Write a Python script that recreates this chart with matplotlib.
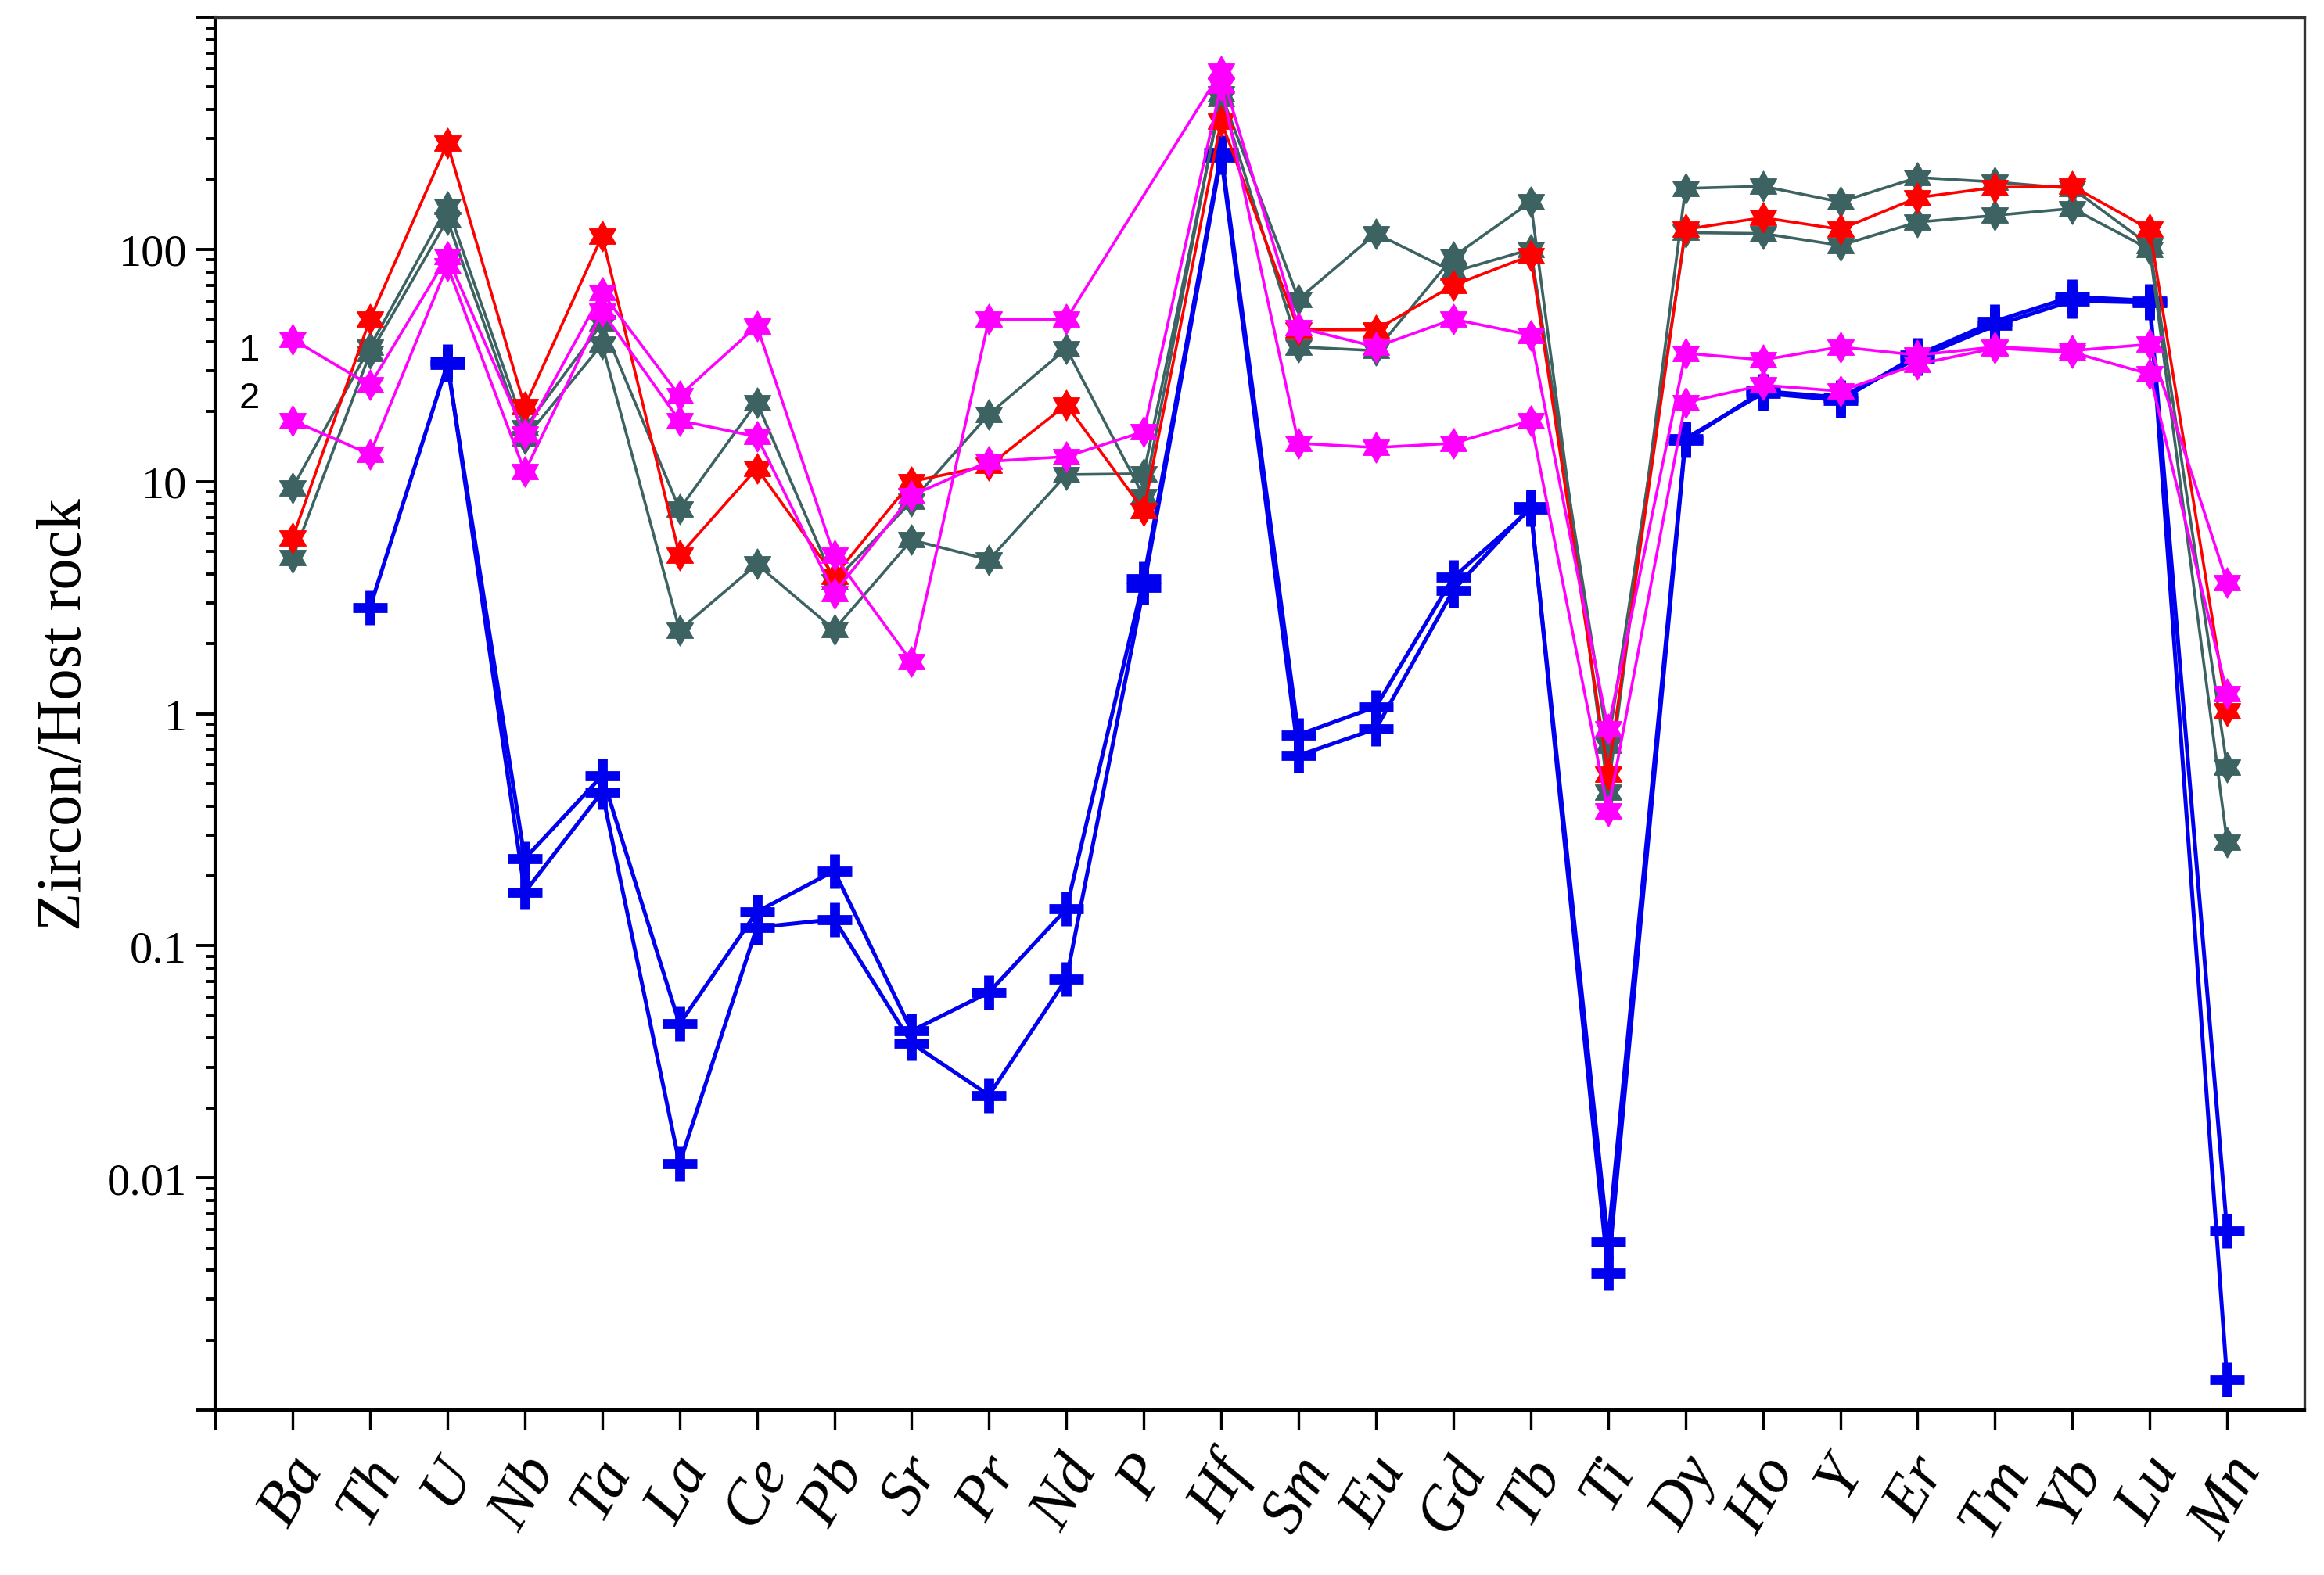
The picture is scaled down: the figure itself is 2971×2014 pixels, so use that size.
import numpy as np
import matplotlib.pyplot as plt
from matplotlib.path import Path
from matplotlib.ticker import FixedLocator, LogLocator, FuncFormatter, NullFormatter

nan = np.nan

elements = ["Ba", "Th", "U", "Nb", "Ta", "La", "Ce", "Pb", "Sr", "Pr", "Nd", "P", "Hf",
            "Sm", "Eu", "Gd", "Tb", "Ti", "Dy", "Ho", "Y", "Er", "Tm", "Yb", "Lu", "Mn"]

# dark grey samples
grey_a = [9.4, 38, 153, 17, 48, 7.6, 21.9, 3.7, 8.2, 19.5, 37.4, 8.6, 467,
          61, 117, 80, 100, 0.73, 118, 117, 104, 131, 140, 150, 100, 0.28]
grey_b = [4.7, 35.6, 134, 15.3, 39, 2.29, 4.4, 2.3, 5.6, 4.6, 10.7, 10.8, 447,
          38, 36.6, 93, 160, 0.46, 183, 187, 160, 204, 195, 183, 104, 0.59]

# red sample
red_a = [5.7, 50, 286, 21, 114, 4.8, 11.4, 3.9, 10, 11.7, 21.4, 7.5, 357,
         45, 45, 70, 94, 0.55, 122, 137, 122, 167, 185, 187, 122, 1.03]

# magenta samples (labelled 1 and 2 at Ba)
magenta_1 = [41, 26, 93, 16, 65, 23.4, 46.8, 4.8, 1.67, 50, 50, nan, 585,
             46, 38, 50, 42.7, 0.86, 35.7, 33.4, 38, 35, 38, 36.6, 39, 3.67]
magenta_2 = [18.3, 13.1, 85, 11, 54, 18.3, 15.6, 3.3, 8.7, 12.2, 12.8, 16.4, 511,
             14.6, 14, 14.6, 18.3, 0.38, 21.9, 26, 24.5, 32, 37.5, 36, 29, 1.22]

# blue samples
blue_a = [nan, 2.86, 32, 0.237, 0.54, 0.046, 0.14, 0.21, 0.043, 0.063, 0.144, 3.8, 261,
          0.81, 1.07, 3.86, 7.6, 0.0053, 15.3, 24, 22.4, 35, 49, 62.5, 60, 0.0059]
blue_b = [nan, nan, 33, 0.17, 0.46, 0.0115, 0.12, 0.13, 0.038, 0.0227, 0.072, 3.5, 250,
          0.66, 0.86, 3.4, 7.8, 0.0039, 15, 24.5, 23, 34, 47, 60, 59, 0.00135]

hexagram = Path.unit_regular_star(6, 0.577)

fig = plt.figure(figsize=(14.855, 10.075), dpi=200)
ax = fig.add_axes([0.0926, 0.1047, 0.899, 0.8839])

x = np.arange(1, len(elements) + 1)


def draw(values, color, marker, ms, mew, lw):
    y = np.array(values, dtype=float)
    ok = np.isfinite(y)
    ax.plot(x[ok], y[ok], color=color, lw=lw, marker=marker, ms=ms,
            mec=color, mfc=color, mew=mew)


for s in (blue_a, blue_b):
    draw(s, "#0000ee", "+", 16, 4.6, 1.8)
for s in (grey_a, grey_b):
    draw(s, "#3c6262", hexagram, 14, 0.5, 1.3)
draw(red_a, "#ff0000", hexagram, 14, 0.5, 1.3)
for s in (magenta_1, magenta_2):
    draw(s, "#ff00ff", hexagram, 14, 0.5, 1.3)

ax.text(0.44, 36.6, "1", fontfamily="Liberation Sans", fontsize=17, ha="center", va="center")
ax.text(0.44, 22.8, "2", fontfamily="Liberation Sans", fontsize=17, ha="center", va="center")

ax.set_yscale("log")
ax.set_ylim(1e-3, 1e3)
ax.set_xlim(0, 27)

ylabels = {100: "100", 10: "10", 1: "1", 0.1: "0.1", 0.01: "0.01"}
ax.yaxis.set_major_locator(FixedLocator([1e-3, 1e-2, 1e-1, 1, 10, 100, 1e3]))
ax.yaxis.set_major_formatter(FuncFormatter(
    lambda v, p: next((t for k, t in ylabels.items() if np.isclose(v, k)), "")))
ax.yaxis.set_minor_locator(LogLocator(base=10, subs=np.arange(2, 10)))
ax.yaxis.set_minor_formatter(NullFormatter())

ax.set_xticks(np.arange(0, 27))
ax.set_xticklabels([""] + elements)

ax.tick_params(axis="y", which="major", direction="out", length=9, width=1.4, pad=4,
               labelsize=21, right=False)
ax.tick_params(axis="y", which="minor", direction="out", length=4.5, width=1.4, right=False)
ax.tick_params(axis="x", which="major", direction="out", length=9, width=1.2, pad=8,
               top=False)
ax.tick_params(axis="x", which="minor", bottom=False, top=False)

for lab in ax.get_yticklabels():
    lab.set_fontfamily("Liberation Serif")
for lab in ax.get_xticklabels():
    lab.set_fontfamily("Liberation Serif")
    lab.set_fontstyle("italic")
    lab.set_fontsize(29)
    lab.set_rotation(60)
    lab.set_ha("center")
    lab.set_va("top")

ax.set_ylabel("Zircon/Host rock", fontfamily="Liberation Serif", fontsize=29, labelpad=6)

for side in ("left", "bottom"):
    ax.spines[side].set_linewidth(1.5)
    ax.spines[side].set_color("black")
for side in ("top", "right"):
    ax.spines[side].set_linewidth(1.2)
    ax.spines[side].set_color("#333333")

fig.savefig("out.png", dpi=200)
